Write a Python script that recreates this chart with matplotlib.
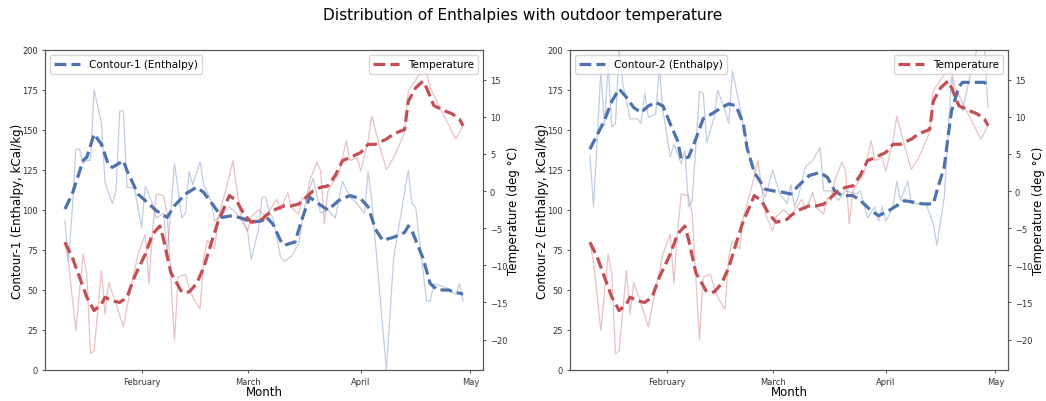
import matplotlib
matplotlib.use("Agg")
import matplotlib.pyplot as plt
import matplotlib.dates as mdates
import pandas as pd

START = pd.Timestamp("2020-01-11")

# Contour-1 enthalpy (kCal/kg): raw readings and smoothed trend
c1_raw_day = [0, 1, 2, 3, 4, 5, 6, 7, 8, 10, 11, 13, 14, 15, 16, 17, 19, 21, 22, 24,
              25, 27, 28, 30, 32, 33, 34, 35, 37, 38, 40, 41, 43, 45, 47, 49, 50, 51,
              53, 54, 55, 56, 57, 59, 60, 62, 64, 66, 68, 70, 72, 74, 76, 78, 80, 82,
              83, 84, 88, 90, 94, 95, 96, 99, 100, 101, 105, 107, 108, 109]
c1_raw = [93, 68, 100, 138, 138, 129, 131, 131, 175, 154, 117, 104, 112, 162, 162, 114,
          114, 89, 115, 104, 95, 98, 73, 129, 95, 98, 124, 116, 130, 116, 106, 93, 97,
          102, 98, 91, 87, 69, 88, 108, 108, 98, 95, 71, 68, 71, 79, 106, 120, 98, 100,
          95, 118, 108, 104, 98, 124, 106, 0, 70, 125, 104, 102, 43, 43, 54, 51, 47, 54, 43]
c1_avg_day = [0, 2, 5, 6, 8, 10, 12, 13, 16, 17, 20, 23, 25, 28, 30, 33, 36, 38, 41, 43,
              46, 49, 51, 54, 55, 57, 59, 60, 63, 65, 67, 70, 72, 75, 78, 81, 83, 85, 87,
              90, 93, 94, 95, 98, 100, 102, 105, 107, 109]
c1_avg = [100.6, 110, 131, 133, 147.5, 141, 127.7, 126.7, 130.8, 124.6, 110, 103.8, 99.6,
          95.4, 102.7, 110, 114.2, 111, 101.7, 95.4, 96.5, 94.4, 92.3, 93.3, 96, 91, 81,
          78, 80, 95, 108, 103, 100, 106, 109, 107, 102, 88, 81, 83, 86, 90, 87, 70, 54,
          50, 50, 48.5, 47.5]

# Contour-2 enthalpy (kCal/kg): raw readings and smoothed trend
c2_raw_day = [0, 1, 3, 4, 5, 6, 7, 8, 9, 11, 13, 14, 15, 16, 18, 19, 20, 22, 23, 25, 26,
              27, 28, 30, 31, 32, 34, 35, 37, 38, 39, 41, 43, 44, 46, 48, 49, 50, 52, 54,
              55, 56, 57, 59, 61, 63, 64, 66, 68, 70, 73, 74, 76, 78, 79, 80, 81, 83, 84,
              85, 87, 88, 92, 94, 95, 97, 98, 99, 100, 102, 103, 104, 106, 108, 109]
c2_raw = [134, 102, 187, 153, 191, 152, 154, 201, 179, 157, 157, 154, 173, 158, 160, 189,
          162, 133, 141, 129, 137, 102, 106, 174, 173, 142, 158, 175, 162, 154, 187, 165,
          141, 129, 120, 108, 116, 125, 110, 104, 116, 102, 108, 127, 131, 139, 112, 112,
          106, 112, 110, 112, 95, 102, 93, 102, 93, 102, 118, 106, 118, 104, 104, 91, 78,
          108, 145, 183, 170, 162, 173, 183, 201, 201, 164]
c2_avg_day = [0, 2, 4, 6, 8, 10, 12, 14, 16, 18, 20, 22, 24, 25, 27, 29, 31, 34, 36, 38,
              40, 42, 43, 45, 48, 50, 53, 55, 57, 60, 63, 65, 67, 69, 72, 74, 77, 79, 81,
              84, 86, 89, 91, 94, 95, 97, 98, 99, 101, 102, 105, 108, 109]
c2_avg = [138, 147, 156, 168, 175.6, 170.4, 164, 161, 165, 167.3, 165, 153.8, 143.3, 132,
          133, 144.4, 157, 161, 164, 166.3, 165.2, 153.8, 139, 123.5, 113, 112, 111, 110,
          115, 121.5, 123.5, 120.4, 112, 109, 109, 106, 99.6, 96.5, 98.5, 102.7, 105.8,
          104.8, 103.8, 103.8, 112, 127, 145, 162, 177, 179.8, 179.8, 179.8, 176]

# Outdoor temperature (deg C): raw readings and smoothed trend
t_raw_day = [0, 1, 3, 5, 6, 7, 8, 10, 11, 12, 14, 16, 17, 20, 22, 23, 24, 25, 27, 28, 30,
             31, 33, 34, 35, 37, 38, 39, 41, 42, 44, 46, 47, 48, 50, 51, 53, 55, 56, 58,
             59, 61, 62, 64, 65, 66, 67, 69, 70, 71, 72, 73, 75, 77, 78, 80, 81, 83, 84,
             86, 88, 90, 93, 94, 97, 99, 100, 102, 107, 109]
t_raw = [-6.9, -9.6, -18.8, -8.5, -11.2, -21.9, -21.5, -10.7, -16.6, -12.3, -15.2, -18.3,
         -15.6, -8.5, -5.8, -12.5, -5.3, -0.4, -0.6, -3.1, -20.1, -11.6, -11.2, -13.0,
         -14.3, -15.9, -8.9, -6.7, -7.8, -3.5, 0.0, 4.1, 0.5, -3.0, -5.4, -3.5, -2.5,
         -3.5, -2.6, -1.1, -2.6, -0.2, -2.2, -3.1, -0.9, -1.3, 1.4, 3.9, 2.7, -4.4, 0.0,
         0.9, 2.3, 6.8, 4.1, 4.5, 2.7, 6.8, 10.1, 6.3, 2.9, 4.5, 7.9, 13.5, 15.7, 16.0,
         13.9, 11.9, 7.0, 8.8]
t_avg_day = [0, 2, 4, 6, 8, 10, 11, 13, 15, 17, 19, 22, 24, 26, 27, 29, 32, 34, 36, 38,
             40, 42, 44, 45, 47, 49, 51, 54, 55, 57, 60, 62, 64, 66, 68, 70, 72, 74, 76,
             78, 81, 83, 85, 88, 90, 93, 94, 96, 98, 99, 101, 104, 106, 108, 109]
t_avg = [-6.9, -8.9, -11.6, -14.3, -16.1, -15.2, -14.3, -14.8, -15.0, -14.3, -11.6, -8.5,
         -5.8, -4.7, -6.5, -11.0, -13.6, -13.6, -12.5, -10.3, -7.1, -4.0, -1.8, -0.6,
         -1.3, -3.1, -4.2, -3.8, -3.3, -2.6, -2.0, -2.0, -1.75, -0.85, 0.05, 0.5, 0.7,
         2.1, 4.1, 4.5, 5.2, 6.3, 6.3, 7.0, 7.7, 8.3, 12.1, 13.9, 14.8, 13.9, 11.5, 10.8,
         10.4, 9.7, 8.8]

BLUE = "#4c72b0"
RED = "#c44e52"


def to_dates(days):
    return START + pd.to_timedelta(days, unit="D")


panels = [
    ("Contour-1", c1_raw_day, c1_raw, c1_avg_day, c1_avg),
    ("Contour-2", c2_raw_day, c2_raw, c2_avg_day, c2_avg),
]

fig = plt.figure(figsize=(10.46, 4.02), dpi=100)
fig.suptitle("Distribution of Enthalpies with outdoor temperature",
             fontsize=11.1, y=0.98)

lefts = [45 / 1046, 570 / 1046]
for (name, rd, rv, ad, av), left in zip(panels, lefts):
    ax = fig.add_axes([left, 31 / 402, 438 / 1046, 320 / 402])
    ax.plot(to_dates(rd), rv, color=BLUE, lw=0.9, alpha=0.35)
    ax.plot(to_dates(ad), av, color=BLUE, lw=2.3, ls="--",
            label=f"{name} (Enthalpy)")
    ax.set_ylim(0, 200)
    ax.set_yticks(range(0, 201, 25))
    ax.set_ylabel(f"{name} (Enthalpy, kCal/kg)", fontsize=8.5, labelpad=-1)
    ax.set_xlabel("Month", fontsize=8.5, labelpad=-1)
    ax.xaxis.set_major_locator(mdates.MonthLocator())
    ax.xaxis.set_major_formatter(mdates.DateFormatter("%B"))
    ax.tick_params(labelsize=6, length=2.5, width=0.6, pad=2.5, colors="#333333")
    ax.legend(loc="upper left", fontsize=7.5, handlelength=2.5)

    ax2 = ax.twinx()
    ax2.plot(to_dates(t_raw_day), t_raw, color=RED, lw=0.9, alpha=0.35)
    ax2.plot(to_dates(t_avg_day), t_avg, color=RED, lw=2.3, ls="--",
             label="Temperature")
    ax2.set_ylim(-24.1, 19.0)
    ax2.set_yticks(range(-20, 16, 5))
    ax2.set_ylabel("Temperature (deg °C)", fontsize=8.5, labelpad=0)
    ax2.tick_params(labelsize=6, length=2.5, width=0.6, pad=2.5, colors="#333333")
    ax2.legend(loc="upper right", fontsize=7.5, handlelength=2.5)

    for a in (ax, ax2):
        for s in a.spines.values():
            s.set_color("#555555")
            s.set_linewidth(0.8)

fig.savefig("out.png", dpi=100)
